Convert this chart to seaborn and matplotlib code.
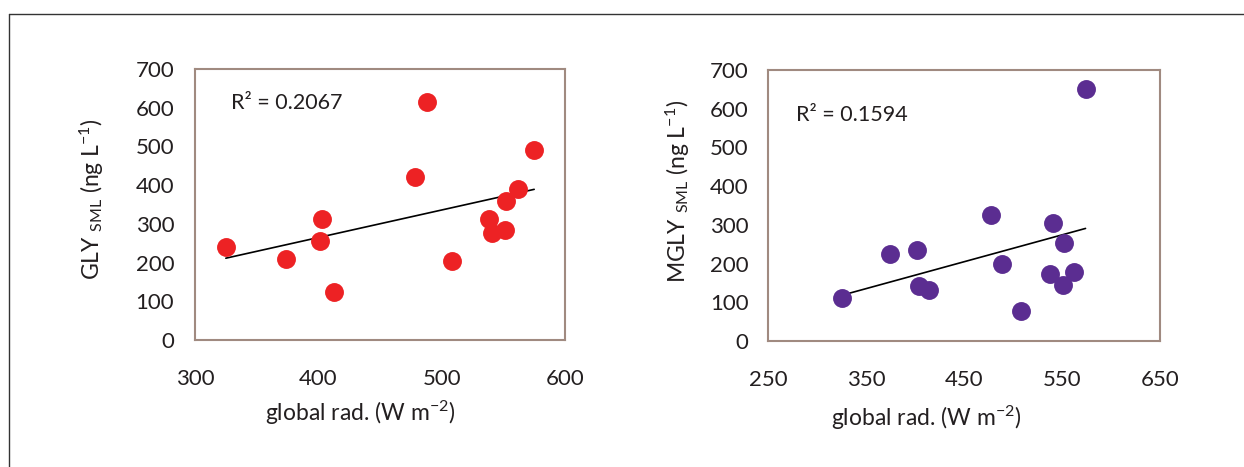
import matplotlib
matplotlib.use("Agg")
import matplotlib.pyplot as plt
from matplotlib.lines import Line2D
import seaborn as sns
import pandas as pd

# Daily mean global radiation (W m-2) and SML concentrations (ng L-1)
global_rad = [325, 374, 401, 403, 413, 478, 488, 508, 538, 541, 551, 552, 562, 575]
gly_sml = [240, 208, 257, 313, 123, 420, 616, 205, 312, 276, 284, 358, 390, 492]
mgly_rad = [326, 374, 402, 404, 414, 478, 489, 508, 538, 541, 551, 552, 562, 574]
mgly_sml = [112, 225, 234, 143, 131, 325, 199, 78, 173, 306, 145, 252, 179, 650]

r2_labels = ["R² = 0.2067", "R² = 0.1594"]
x_ticks_left = [300, 400, 500, 600]
x_ticks_right = [250, 350, 450, 550, 650]
y_ticks = [0, 100, 200, 300, 400, 500, 600, 700]

sns.set_theme(style="white")
plt.rcParams["font.family"] = ["Lato", "DejaVu Sans"]
plt.rcParams["mathtext.fontset"] = "custom"
plt.rcParams["mathtext.rm"] = "Lato"
plt.rcParams["mathtext.it"] = "Lato"
plt.rcParams["mathtext.default"] = "regular"

W, H = 1244, 467
fig = plt.figure(figsize=(W / 100, H / 100), dpi=100)
fig.patch.set_facecolor("white")

# outer frame (top and left edges)
fig.add_artist(Line2D([9 / W, 1.0], [1 - 14 / H, 1 - 14 / H], color="#333333", lw=1.0))
fig.add_artist(Line2D([9 / W, 9 / W], [0.0, 1 - 14 / H], color="#333333", lw=1.0))

spine_col = "#A08A80"
text_col = "#231F20"
tick_fs = 16
label_fs = 16.5
r2_fs = 15.5

panels = [
    dict(box=(195, 69, 565, 340), x=global_rad, y=gly_sml, color="#ED2224",
         xlim=(300, 600), xticks=x_ticks_left,
         ylabel=r"GLY $_{SML}$ (ng L$^{-1}$)", r2=r2_labels[0],
         r2pos=(0.097, 0.875), xlab=(0.446, -0.27), ylab=(-0.28, 0.52), ypad=15),
    dict(box=(768, 70, 1160, 341), x=mgly_rad, y=mgly_sml, color="#5B2D91",
         xlim=(250, 650), xticks=x_ticks_right,
         ylabel=r"MGLY $_{SML}$ (ng L$^{-1}$)", r2=r2_labels[1],
         r2pos=(0.071, 0.834), xlab=(0.403, -0.285), ylab=(-0.23, 0.553), ypad=14),
]

for p in panels:
    x0, y0, x1, y1 = p["box"]
    ax = fig.add_axes([x0 / W, 1 - y1 / H, (x1 - x0) / W, (y1 - y0) / H])
    df = pd.DataFrame({"rad": p["x"], "conc": p["y"]})
    sns.regplot(data=df, x="rad", y="conc", scatter=False, ci=None, truncate=True,
                line_kws=dict(color="black", lw=1.2, zorder=2), ax=ax)
    sns.scatterplot(data=df, x="rad", y="conc", color=p["color"], s=185,
                    linewidth=0, zorder=3, ax=ax)
    ax.set_xlim(*p["xlim"])
    ax.set_ylim(0, 700)
    ax.set_xticks(p["xticks"])
    ax.set_yticks(y_ticks)
    for side in ["left", "right", "top", "bottom"]:
        ax.spines[side].set_visible(True)
        ax.spines[side].set_color(spine_col)
        ax.spines[side].set_linewidth(1.5)
    ax.tick_params(axis="both", direction="in", length=5, width=1.2, color=spine_col,
                   labelsize=tick_fs, labelcolor=text_col)
    ax.tick_params(axis="x", pad=21)
    ax.tick_params(axis="y", pad=p["ypad"])
    ax.set_xlabel(r"global rad. (W m$^{-2}$)", fontsize=label_fs, color=text_col,
                  va="center", ha="center")
    ax.xaxis.set_label_coords(*p["xlab"])
    ax.set_ylabel(p["ylabel"], fontsize=label_fs, color=text_col, va="center", ha="center")
    ax.yaxis.set_label_coords(*p["ylab"])
    ax.text(p["r2pos"][0], p["r2pos"][1], p["r2"], transform=ax.transAxes,
            fontsize=r2_fs, color=text_col, ha="left", va="center")
    ax.grid(False)

fig.savefig("out.png", dpi=100, facecolor="white")
